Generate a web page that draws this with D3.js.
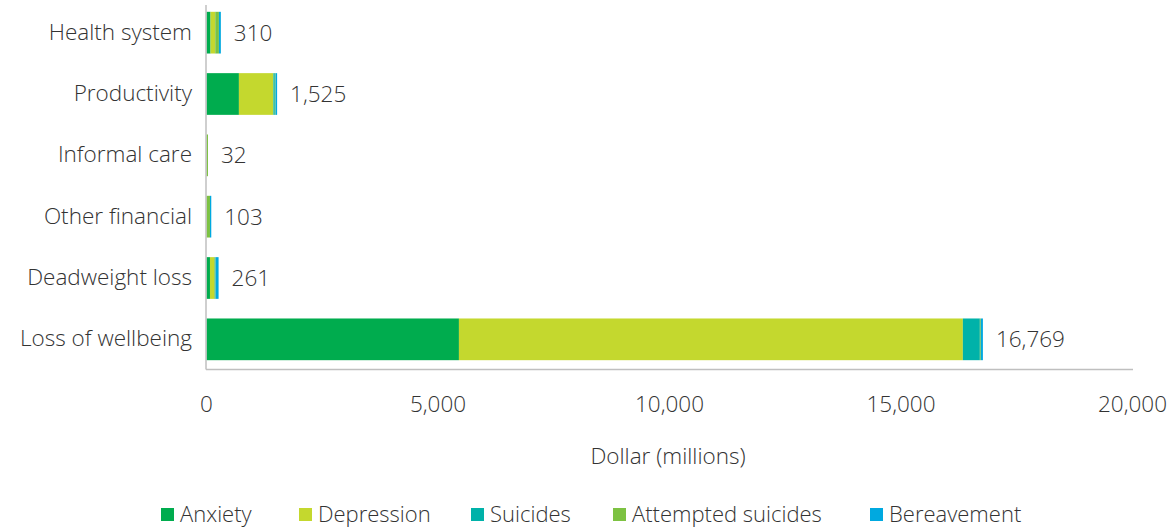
<!DOCTYPE html>
<html>
<head>
<meta charset="utf-8">
<script src="https://cdn.jsdelivr.net/npm/d3@7"></script>
<style>
  html, body { margin: 0; padding: 0; background: #fff; }
  svg { display: block; }
  text { font-family: "Open Sans", sans-serif; fill: #333333; }
</style>
</head>
<body>
<svg id="chart" width="1171" height="529"></svg>
<script>
const categories = ["Health system", "Productivity", "Informal care", "Other financial", "Deadweight loss", "Loss of wellbeing"];
const seriesNames = ["Anxiety", "Depression", "Suicides", "Attempted suicides", "Bereavement"];
const anxiety     = [87, 700, 0, 0, 75, 5452];
const depression  = [100, 745, 0, 0, 90, 10884];
const suicides    = [3, 30, 0, 0, 5, 367];
const attempted   = [78, 15, 32, 75, 25, 20];
const bereavement = [42, 35, 0, 28, 66, 46];
const totals      = [310, 1525, 32, 103, 261, 16769];
const xTicks      = [0, 5000, 10000, 15000, 20000];
const colors      = ["#00ac4e", "#c4d82e", "#00b2a9", "#7dc242", "#00a9e0"];

const seriesValues = [anxiety, depression, suicides, attempted, bereavement];
const rows = categories.map((c, i) => {
  const r = { category: c, total: totals[i] };
  seriesNames.forEach((s, j) => r[s] = seriesValues[j][i]);
  return r;
});

const svg = d3.select("#chart");
const x = d3.scaleLinear().domain([0, 20000]).range([206.5, 1132.5]);
const y = d3.scaleBand().domain(categories).range([2, 370]).paddingInner(0.32).paddingOuter(0.16);
const color = d3.scaleOrdinal().domain(seriesNames).range(colors);

const stacked = d3.stack().keys(seriesNames)(rows);

svg.append("g").selectAll("g").data(stacked).join("g")
  .attr("fill", d => color(d.key))
  .selectAll("rect").data(d => d).join("rect")
  .attr("x", d => x(d[0]))
  .attr("y", d => y(d.data.category))
  .attr("width", d => Math.max(0, x(d[1]) - x(d[0])))
  .attr("height", y.bandwidth());

// axes lines
svg.append("line").attr("x1", 206).attr("x2", 206).attr("y1", 5).attr("y2", 369.5)
  .attr("stroke", "#bfbfbf").attr("stroke-width", 1.5);
svg.append("line").attr("x1", 206).attr("x2", 1133).attr("y1", 369.5).attr("y2", 369.5)
  .attr("stroke", "#bfbfbf").attr("stroke-width", 1.5);

const fs = "22.5px";
// category labels
svg.append("g").selectAll("text").data(categories).join("text")
  .attr("x", 192)
  .attr("y", d => y(d) + y.bandwidth() / 2 - 1)
  .attr("dy", "0.35em")
  .attr("text-anchor", "end")
  .style("font-size", fs)
  .style("font-weight", 300)
  .text(d => d);

// value labels
svg.append("g").selectAll("text").data(rows).join("text")
  .attr("x", d => x(d.total) + 13)
  .attr("y", d => y(d.category) + y.bandwidth() / 2)
  .attr("dy", "0.35em")
  .style("font-size", fs)
  .style("font-weight", 300)
  .text(d => d3.format(",")(d.total));

// x tick labels
svg.append("g").selectAll("text").data(xTicks).join("text")
  .attr("x", d => x(d))
  .attr("y", 404)
  .attr("dy", "0.35em")
  .attr("text-anchor", "middle")
  .style("font-size", fs)
  .style("font-weight", 300)
  .text(d => d3.format(",")(d));

svg.append("text")
  .attr("x", 668).attr("y", 456).attr("dy", "0.35em")
  .attr("text-anchor", "middle")
  .style("font-size", fs)
  .style("font-weight", 300)
  .text("Dollar (millions)");

// legend
const legendX = [161, 299, 471, 613, 870];
const lg = svg.append("g").selectAll("g").data(seriesNames).join("g")
  .attr("transform", (d, i) => `translate(${legendX[i]},508)`);
lg.append("rect").attr("width", 13).attr("height", 13).attr("fill", d => color(d));
lg.append("text").attr("x", 19).attr("y", 6).attr("dy", "0.35em")
  .style("font-size", "22px").style("font-weight", 300).text(d => d);
</script>
</body>
</html>
